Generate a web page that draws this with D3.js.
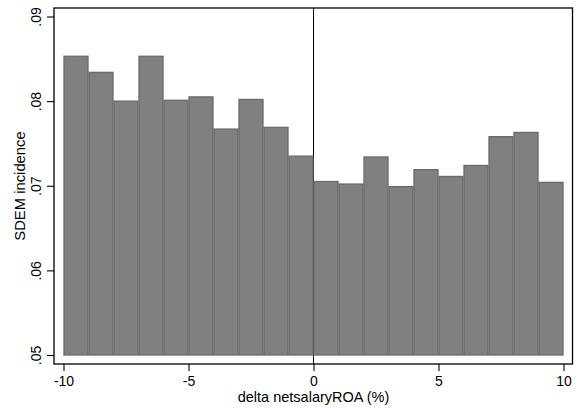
<!DOCTYPE html>
<html>
<head>
<meta charset="utf-8">
<script src="https://cdn.jsdelivr.net/npm/d3@7"></script>
<style>
html,body{margin:0;padding:0;background:#fff;}
svg{display:block;font-family:"Liberation Sans",Arial,Helvetica,sans-serif;}
</style>
</head>
<body>
<svg id="chart" width="579" height="408"></svg>
<script>
// Data
const binStarts = [-10,-9,-8,-7,-6,-5,-4,-3,-2,-1,0,1,2,3,4,5,6,7,8,9];
const incidence = [0.0853,0.0834,0.0800,0.0853,0.0801,0.0805,0.0767,0.0802,0.0769,0.0735,
                   0.0705,0.0702,0.0734,0.0699,0.0719,0.0711,0.0724,0.0758,0.0763,0.0704];
const xTicks = [-10,-5,0,5,10];
const xTickLabels = ["-10","-5","0","5","10"];
const yTicks = [0.05,0.06,0.07,0.08,0.09];
const yTickLabels = [".05",".06",".07",".08",".09"];
const xTitle = "delta netsalaryROA (%)";
const yTitle = "SDEM incidence";

const svg = d3.select("#chart");
const plot = {left:54, right:572.5, top:8, bottom:364};

const x = d3.scaleLinear().domain([-10,10]).range([63.5,563.5]);
const y = d3.scaleLinear().domain([0.05,0.09]).range([355,16.5]);

// reference line at 0 (behind bars)
svg.append("line")
  .attr("x1", x(0)).attr("x2", x(0))
  .attr("y1", plot.top).attr("y2", plot.bottom)
  .attr("stroke","#000").attr("stroke-width",1);

// bars
svg.append("g").selectAll("rect")
  .data(binStarts)
  .join("rect")
  .attr("x", (d)=> x(d)+0.5)
  .attr("width", (d)=> x(d+1)-x(d)-1)
  .attr("y", (d,i)=> y(incidence[i]))
  .attr("height", (d,i)=> y(0.05)-y(incidence[i]))
  .attr("fill","#808080")
  .attr("stroke","#6a6a6a")
  .attr("stroke-width",1.3);

// frame
svg.append("rect")
  .attr("x", plot.left).attr("y", plot.top)
  .attr("width", plot.right-plot.left).attr("height", plot.bottom-plot.top)
  .attr("fill","none").attr("stroke","#000").attr("stroke-width",1.3);

// y axis
const yAxis = d3.axisLeft(y).tickValues(yTicks).tickSize(7).tickPadding(4)
  .tickFormat((d,i)=> yTickLabels[i]);
const gy = svg.append("g").attr("transform",`translate(${plot.left},0)`).call(yAxis);
gy.select(".domain").remove();
gy.selectAll(".tick line").attr("stroke","#000").attr("stroke-width",1.1);
gy.selectAll(".tick text")
  .attr("font-size",14).attr("fill","#000")
  .attr("text-anchor","middle")
  .attr("x",0).attr("dy",0)
  .attr("transform","translate(-13,0) rotate(-90)");

// x axis
const xAxis = d3.axisBottom(x).tickValues(xTicks).tickSize(7).tickPadding(4)
  .tickFormat((d,i)=> xTickLabels[i]);
const gx = svg.append("g").attr("transform",`translate(0,${plot.bottom})`).call(xAxis);
gx.select(".domain").remove();
gx.selectAll(".tick line").attr("stroke","#000").attr("stroke-width",1.1);
gx.selectAll(".tick text").attr("font-size",14).attr("fill","#000")
  .attr("dy",0).attr("y",21.5);

// titles
svg.append("text")
  .attr("x", x(0)).attr("y", 402)
  .attr("text-anchor","middle").attr("font-size",14.5).attr("fill","#000")
  .text(xTitle);
svg.append("text")
  .attr("transform",`translate(24.5,${(plot.top+plot.bottom)/2}) rotate(-90)`)
  .attr("text-anchor","middle").attr("font-size",14.8).attr("fill","#000")
  .text(yTitle);
</script>
</body>
</html>
